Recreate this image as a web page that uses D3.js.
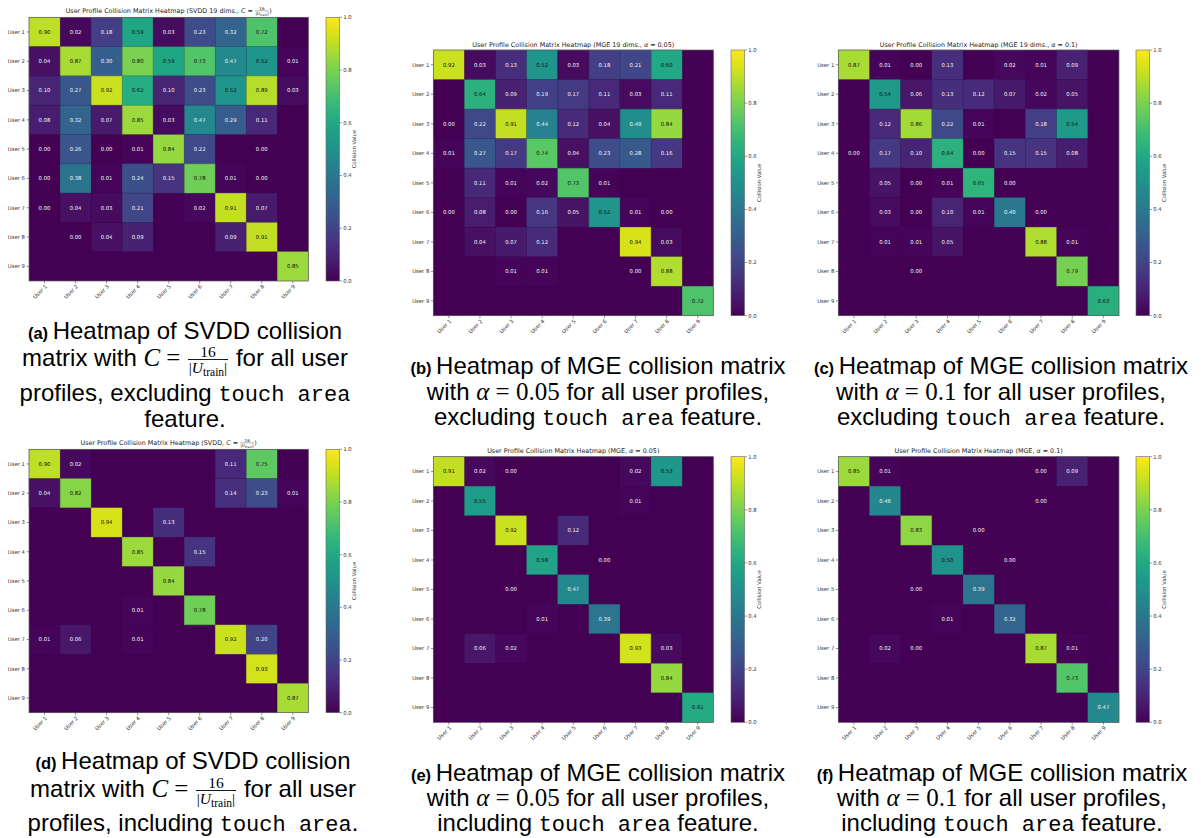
<!DOCTYPE html>
<html><head><meta charset="utf-8">
<script src="https://d3js.org/d3.v7.min.js"></script>
<style>body{margin:0;background:#fff} svg{display:block} text{white-space:pre}</style>
</head><body>
<svg id="fig" width="1201" height="838"></svg>
<script>
var users = ["User 1","User 2","User 3","User 4","User 5","User 6","User 7","User 8","User 9"];
var cbarTicks = [0, 0.2, 0.4, 0.6, 0.8, 1.0];
var _ = null; // blank cell (no collision)

// (a) SVDD 19 dims, excluding touch area
var svdd19 = [
  [0.90,0.02,0.18,0.59,0.03,0.23,0.32,0.72,_],
  [0.04,0.87,0.30,0.80,0.59,0.73,0.47,0.52,0.01],
  [0.10,0.27,0.92,0.62,0.10,0.23,0.52,0.89,0.03],
  [0.08,0.32,0.07,0.85,0.03,0.47,0.29,0.11,_],
  [0.00,0.26,0.00,0.01,0.84,0.22,_,0.00,_],
  [0.00,0.38,0.01,0.24,0.15,0.78,0.01,0.00,_],
  [0.00,0.04,0.03,0.21,_,0.02,0.91,0.07,_],
  [_,0.00,0.04,0.09,_,_,0.09,0.91,_],
  [_,_,_,_,_,_,_,_,0.85]
];
// (b) MGE 19 dims, alpha = 0.05
var mge19a05 = [
  [0.92,0.03,0.13,0.52,0.03,0.18,0.21,0.60,_],
  [_,0.64,0.09,0.19,0.17,0.11,0.03,0.11,_],
  [0.00,0.22,0.91,0.44,0.12,0.04,0.49,0.84,_],
  [0.01,0.27,0.17,0.74,0.04,0.23,0.28,0.16,_],
  [_,0.11,0.01,0.02,0.73,0.01,_,_,_],
  [0.00,0.08,0.00,0.16,0.05,0.52,0.01,0.00,_],
  [_,0.04,0.07,0.12,_,_,0.94,0.03,_],
  [_,_,0.01,0.01,_,_,0.00,0.88,_],
  [_,_,_,_,_,_,_,_,0.72]
];
// (c) MGE 19 dims, alpha = 0.1
var mge19a10 = [
  [0.87,0.01,0.00,0.13,_,0.02,0.01,0.09,_],
  [_,0.54,0.06,0.13,0.12,0.07,0.02,0.05,_],
  [_,0.12,0.86,0.22,0.01,_,0.18,0.54,_],
  [0.00,0.17,0.10,0.64,0.00,0.15,0.15,0.08,_],
  [_,0.05,0.00,0.01,0.65,0.00,_,_,_],
  [_,0.03,0.00,0.10,0.01,0.40,0.00,_,_],
  [_,0.01,0.01,0.05,_,_,0.88,0.01,_],
  [_,_,0.00,_,_,_,_,0.79,_],
  [_,_,_,_,_,_,_,_,0.63]
];
// (d) SVDD, including touch area
var svddAll = [
  [0.90,0.02,_,_,_,_,0.11,0.75,_],
  [0.04,0.82,_,_,_,_,0.14,0.23,0.01],
  [_,_,0.94,_,0.13,_,_,_,_],
  [_,_,_,0.85,_,0.15,_,_,_],
  [_,_,_,_,0.84,_,_,_,_],
  [_,_,_,0.01,_,0.78,_,_,_],
  [0.01,0.06,_,0.01,_,_,0.92,0.20,_],
  [_,_,_,_,_,_,_,0.93,_],
  [_,_,_,_,_,_,_,_,0.87]
];
// (e) MGE, alpha = 0.05, including touch area
var mgeA05 = [
  [0.91,0.02,0.00,_,_,_,0.02,0.53,_],
  [_,0.55,_,_,_,_,0.01,_,_],
  [_,_,0.92,_,0.12,_,_,_,_],
  [_,_,_,0.58,_,0.00,_,_,_],
  [_,_,0.00,_,0.47,_,_,_,_],
  [_,_,_,0.01,_,0.39,_,_,_],
  [_,0.06,0.02,_,_,_,0.93,0.03,_],
  [_,_,_,_,_,_,_,0.84,_],
  [_,_,_,_,_,_,_,_,0.61]
];
// (f) MGE, alpha = 0.1, including touch area
var mgeA10 = [
  [0.85,0.01,_,_,_,_,0.00,0.09,_],
  [_,0.46,_,_,_,_,0.00,_,_],
  [_,_,0.83,_,0.00,_,_,_,_],
  [_,_,_,0.50,_,0.00,_,_,_],
  [_,_,0.00,_,0.39,_,_,_,_],
  [_,_,_,0.01,_,0.32,_,_,_],
  [_,0.02,0.00,_,_,_,0.87,0.01,_],
  [_,_,_,_,_,_,_,0.73,_],
  [_,_,_,_,_,_,_,_,0.47]
];

var SANS = "Liberation Sans, Arial, Helvetica, sans-serif";
var SERIF = "Liberation Serif, DejaVu Serif, serif";
var MONO = "Liberation Mono, DejaVu Sans Mono, monospace";
var DJV = "DejaVu Sans, sans-serif";

var svg = d3.select("#fig");
var grad = svg.append("defs").append("linearGradient").attr("id", "viridis")
  .attr("x1", 0).attr("y1", 1).attr("x2", 0).attr("y2", 0);
d3.range(0, 1.0001, 0.05).forEach(function (t) {
  grad.append("stop").attr("offset", t).attr("stop-color", d3.interpolateViridis(t));
});

function addRuns(sel, runs, base) {
  var t = sel.append("text").attr("xml:space", "preserve");
  var shift = 0;
  runs.forEach(function (r) {
    var st = Object.assign({}, base, r);
    var ts = t.append("tspan").text(st.s)
      .attr("font-family", st.fam).attr("font-size", st.size)
      .attr("font-style", st.it ? "italic" : "normal")
      .attr("font-weight", st.bold ? "bold" : "normal");
    var want = st.dy || 0;
    if (want !== shift) { ts.attr("dy", want - shift); shift = want; }
  });
  return t;
}

// lays out a line of text runs and fractions, centred on cx
function mathLine(g, cx, y, items, base, fr) {
  var line = g.append("g").attr("fill", base.fill || "#000"), x = 0;
  items.forEach(function (it) {
    if (it.frac) {
      var f = line.append("g");
      var num = addRuns(f, it.frac[0], base).attr("text-anchor", "middle").attr("y", -fr.axis - fr.gap);
      var den = addRuns(f, it.frac[1], base).attr("text-anchor", "middle").attr("y", -fr.axis + fr.gap + fr.dh);
      var w = Math.max(num.node().getComputedTextLength(), den.node().getComputedTextLength()) + 2 * fr.pad;
      f.append("line").attr("x1", -w / 2 + fr.pad * 0.6).attr("x2", w / 2 - fr.pad * 0.6)
        .attr("y1", -fr.axis).attr("y2", -fr.axis)
        .attr("stroke", base.fill || "#000").attr("stroke-width", fr.bar);
      f.attr("transform", "translate(" + (x + w / 2) + ",0)");
      x += w;
    } else {
      var t = addRuns(line, it.runs, base).attr("x", x);
      x += t.node().getComputedTextLength();
    }
  });
  line.attr("transform", "translate(" + (cx - x / 2) + "," + y + ")");
}

// ---------- title pieces (matplotlib mathtext, DejaVu) ----------
var tBase = {fam: DJV, size: 6.4, fill: "#222"};
var tFrac = {axis: 1.8, gap: 0.9, dh: 3.3, pad: 0.6, bar: 0.35};
var tFracC = {frac: [[{s: "16", size: 4.2}], [{s: "|", size: 4.2}, {s: "U", it: true, size: 4.2}, {s: "train", size: 3.1, dy: 0.8}, {s: "|", size: 4.2, dy: 0}]]};
function titleOf(head, math) {
  var items = [{runs: [{s: "User Profile Collision Matrix Heatmap (" + head}]}];
  if (math === "C") items.push({runs: [{s: "C", it: true}, {s: " = "}]}, tFracC, {runs: [{s: ")"}]});
  else items.push({runs: [{s: "\u03b1", it: true}, {s: " = " + math + ")"}]});
  return items;
}

// ---------- caption pieces (LaTeX) ----------
var cBase = {fam: SANS, size: 24, fill: "#000"};
var cFrac = {axis: 6.5, gap: 2.8, dh: 11, pad: 2, bar: 0.9};
var cFracC = {frac: [[{s: "16", fam: SERIF, size: 15.5}], [{s: "|", fam: SERIF, size: 15.5}, {s: "U", fam: SERIF, it: true, size: 15.5}, {s: "train", fam: SERIF, size: 11.5, dy: 3}, {s: "|", fam: SERIF, size: 15.5, dy: 0}]]};
function lab(l) { return {runs: [{s: "(" + l + ") ", bold: true, size: 16.5}]}; }
function txt(s) { return {runs: [{s: s}]}; }
function mono(s) { return {runs: [{s: s, fam: MONO, size: 22}]}; }
function alphaEq(v) { return {runs: [{s: "\u03b1", fam: SERIF, it: true, size: 25}, {s: " = " + v, fam: SERIF, size: 25}]}; }
var cEq = {runs: [{s: "C", fam: SERIF, it: true, size: 25}, {s: " = ", fam: SERIF, size: 25}]};

var capA = [[lab("a"), txt("Heatmap of SVDD collision")],
  [txt("matrix with "), cEq, cFracC, txt(" for all user")],
  [txt("profiles, excluding "), mono("touch area")],
  [txt("feature.")]];
function capMGE(l, v, word) {
  return [[lab(l), txt("Heatmap of MGE collision matrix")],
    [txt("with "), alphaEq(v), txt(" for all user profiles,")],
    [txt(word + " "), mono("touch area"), txt(" feature.")]];
}
var capD = [[lab("d"), txt("Heatmap of SVDD collision")],
  [txt("matrix with "), cEq, cFracC, txt(" for all user")],
  [txt("profiles, including "), mono("touch area"), txt(".")]];

var panels = [
  {m: svdd19, x: 29, y: 17.3, w: 279.3, h: 263.7, cb: 326, ty: 12.6, title: titleOf("SVDD 19 dims., ", "C"),
   cap: capA, cx: 185, cy: [339, 366, 401, 427]},
  {m: mge19a05, x: 433.3, y: 50, w: 280, h: 265.7, cb: 731, ty: 46.6, title: titleOf("MGE 19 dims., ", "0.05"),
   cap: capMGE("b", "0.05", "excluding"), cx: 598, cy: [374, 400, 425]},
  {m: mge19a10, x: 838.3, y: 50, w: 280.7, h: 265.7, cb: 1136, ty: 46.6, title: titleOf("MGE 19 dims., ", "0.1"),
   cap: capMGE("c", "0.1", "excluding"), cx: 1001, cy: [374, 400, 425]},
  {m: svddAll, x: 29, y: 449.3, w: 279.3, h: 263.4, cb: 326, ty: 444.6, title: titleOf("SVDD, ", "C"),
   cap: capD, cx: 193, cy: [769, 797, 831]},
  {m: mgeA05, x: 433.3, y: 456.7, w: 280, h: 265.6, cb: 731, ty: 453.4, title: titleOf("MGE, ", "0.05"),
   cap: capMGE("e", "0.05", "including"), cx: 598, cy: [781, 806, 831]},
  {m: mgeA10, x: 838.3, y: 456.7, w: 280.7, h: 265.6, cb: 1136, ty: 453.4, title: titleOf("MGE, ", "0.1"),
   cap: capMGE("f", "0.1", "including"), cx: 1002, cy: [781, 806, 831]}
];

var color = d3.scaleSequential(d3.interpolateViridis).domain([0, 1]);
var fs = 5.3;

panels.forEach(function (p) {
  var g = svg.append("g").attr("transform", "translate(" + p.x + "," + p.y + ")");
  var x = d3.scaleBand().domain(users).range([0, p.w]);
  var y = d3.scaleBand().domain(users).range([0, p.h]);
  var cells = [];
  p.m.forEach(function (row, i) { row.forEach(function (v, j) { cells.push({r: users[i], c: users[j], v: v}); }); });

  // background in the zero colour hides anti-aliasing seams between cells
  g.append("rect").attr("width", p.w).attr("height", p.h).attr("fill", color(0));

  g.selectAll("rect.cell").data(cells).enter().append("rect").attr("class", "cell")
    .attr("x", function (d) { return x(d.c); }).attr("y", function (d) { return y(d.r); })
    .attr("width", x.bandwidth()).attr("height", y.bandwidth())
    .attr("fill", function (d) { return color(d.v === null ? 0 : d.v); });

  // faint edges around coloured cells only
  g.selectAll("rect.edge").data(cells.filter(function (d) { return d.v !== null && d.v >= 0.03; })).enter()
    .append("rect").attr("class", "edge")
    .attr("x", function (d) { return x(d.c); }).attr("y", function (d) { return y(d.r); })
    .attr("width", x.bandwidth()).attr("height", y.bandwidth())
    .attr("fill", "none")
    .attr("stroke", function (d) { return d3.color(color(d.v)).darker(0.8); })
    .attr("stroke-opacity", 0.5).attr("stroke-width", 0.6);

  g.selectAll("text.ann").data(cells.filter(function (d) { return d.v !== null; })).enter().append("text")
    .attr("class", "ann")
    .attr("x", function (d) { return x(d.c) + x.bandwidth() / 2; })
    .attr("y", function (d) { return y(d.r) + y.bandwidth() / 2; })
    .attr("dy", "0.36em").attr("text-anchor", "middle")
    .attr("font-family", DJV).attr("font-size", fs)
    .attr("fill", function (d) { return d.v >= 0.5 ? "#111" : "#f4f4f4"; })
    .text(function (d) { return d3.format(".2f")(d.v); });

  g.append("rect").attr("width", p.w).attr("height", p.h).attr("fill", "none")
    .attr("stroke", "#666").attr("stroke-width", 0.7);

  // y axis
  var ya = g.append("g");
  users.forEach(function (u) {
    var yy = y(u) + y.bandwidth() / 2;
    ya.append("line").attr("x1", -2.5).attr("x2", 0).attr("y1", yy).attr("y2", yy).attr("stroke", "#333").attr("stroke-width", 0.5);
    ya.append("text").attr("x", -4).attr("y", yy).attr("dy", "0.36em").attr("text-anchor", "end")
      .attr("font-family", DJV).attr("font-size", fs).attr("fill", "#333").text(u);
  });
  // x axis
  var xa = g.append("g").attr("transform", "translate(0," + p.h + ")");
  users.forEach(function (u) {
    var xx = x(u) + x.bandwidth() / 2;
    xa.append("line").attr("x1", xx).attr("x2", xx).attr("y1", 0).attr("y2", 2.5).attr("stroke", "#333").attr("stroke-width", 0.5);
    xa.append("text").attr("transform", "translate(" + (xx + 1.5) + ",4.5) rotate(-45)")
      .attr("dy", "0.35em").attr("text-anchor", "end")
      .attr("font-family", DJV).attr("font-size", fs).attr("fill", "#333").text(u);
  });

  // colorbar
  var cbw = 13.5;
  var cg = svg.append("g").attr("transform", "translate(" + p.cb + "," + p.y + ")");
  var cs = d3.scaleLinear().domain([0, 1]).range([p.h, 0]);
  cg.append("rect").attr("width", cbw).attr("height", p.h).attr("fill", "url(#viridis)")
    .attr("stroke", "#666").attr("stroke-width", 0.6);
  cbarTicks.forEach(function (t) {
    cg.append("line").attr("x1", cbw).attr("x2", cbw + 2.5).attr("y1", cs(t)).attr("y2", cs(t)).attr("stroke", "#333").attr("stroke-width", 0.5);
    cg.append("text").attr("x", cbw + 3.8).attr("y", cs(t)).attr("dy", "0.36em")
      .attr("font-family", DJV).attr("font-size", fs).attr("fill", "#333").text(d3.format(".1f")(t));
  });
  cg.append("text").attr("transform", "translate(" + (cbw + 16) + "," + (p.h / 2) + ") rotate(-90)")
    .attr("text-anchor", "middle").attr("font-family", DJV).attr("font-size", fs).attr("fill", "#333")
    .text("Collision Value");

  // title
  mathLine(svg, p.x + p.w / 2, p.ty, p.title, tBase, tFrac);

  // caption
  p.cap.forEach(function (items, k) { mathLine(svg, p.cx, p.cy[k], items, cBase, cFrac); });
});
</script>
</body></html>
